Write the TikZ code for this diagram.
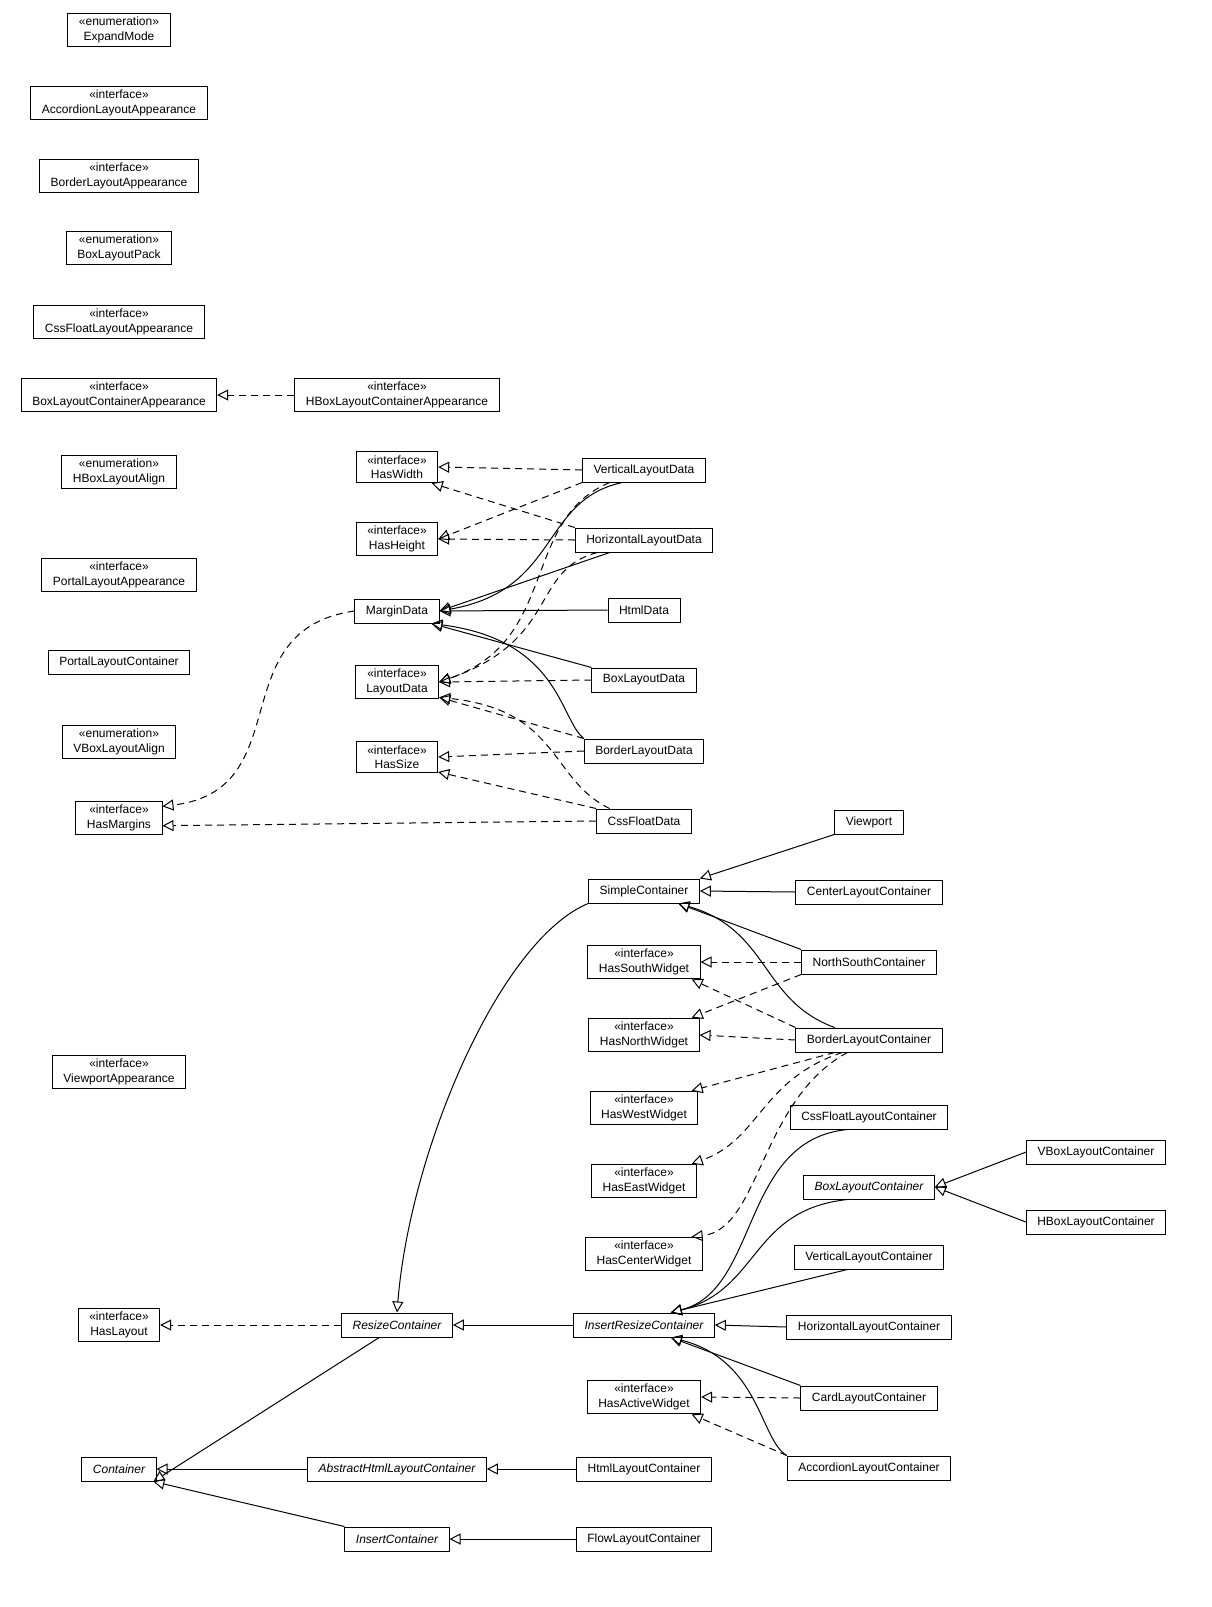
\documentclass[tikz,border=0pt]{standalone}
\usepackage{fontspec}
\setmainfont{Liberation Sans}
\usetikzlibrary{arrows.meta}
\begin{document}
\begin{tikzpicture}[x=1pt,y=-1pt,
  every node/.style={font=\fontsize{12}{14.5}\selectfont},
  box/.style={draw,line width=1pt,inner xsep=11pt,inner ysep=4pt,minimum height=24pt,align=center,fill=white},
  it/.style={box,font=\fontsize{12}{14.5}\selectfont\itshape},
  gen/.style={line width=1pt,-{Triangle[open,length=11pt,width=11pt]}},
  real/.style={gen,dash pattern=on 7pt off 5pt}]
\def\st#1#2{\guillemotleft#1\guillemotright\\#2}
% left column
\node[box] (em) at (119,30) {\st{enumeration}{ExpandMode}};
\node[box] (ala) at (119,103) {\st{interface}{AccordionLayoutAppearance}};
\node[box] (bla) at (119,176) {\st{interface}{BorderLayoutAppearance}};
\node[box] (blp) at (119,248) {\st{enumeration}{BoxLayoutPack}};
\node[box] (cfla) at (119,322) {\st{interface}{CssFloatLayoutAppearance}};
\node[box] (blca) at (119,395) {\st{interface}{BoxLayoutContainerAppearance}};
\node[box] (hblca) at (397,395) {\st{interface}{HBoxLayoutContainerAppearance}};
\node[box] (hbla) at (119,472) {\st{enumeration}{HBoxLayoutAlign}};
\node[box] (pla) at (119,575) {\st{interface}{PortalLayoutAppearance}};
\node[box] (plc) at (119,662) {PortalLayoutContainer};
\node[box] (vbla) at (119,742) {\st{enumeration}{VBoxLayoutAlign}};
\node[box] (hm) at (119,818) {\st{interface}{HasMargins}};
\node[box] (va) at (119,1072) {\st{interface}{ViewportAppearance}};
\node[box] (hl) at (119,1325) {\st{interface}{HasLayout}};
\node[it] (cont) at (119,1469) {Container};
% middle column
\node[box] (hw) at (397,467) {\st{interface}{HasWidth}};
\node[box] (hh) at (397,539) {\st{interface}{HasHeight}};
\node[box] (md) at (397,611) {MarginData};
\node[box] (ld) at (397,682) {\st{interface}{LayoutData}};
\node[box] (hs) at (397,757) {\st{interface}{HasSize}};
\node[it] (rc) at (397,1325) {ResizeContainer};
\node[it] (ahlc) at (397,1469) {AbstractHtmlLayoutContainer};
\node[it] (ic) at (397,1539) {InsertContainer};
% third column
\node[box] (vld) at (644,470) {VerticalLayoutData};
\node[box] (hld) at (644,540) {HorizontalLayoutData};
\node[box] (htd) at (644,610) {HtmlData};
\node[box] (bxd) at (644,680) {BoxLayoutData};
\node[box] (bld) at (644,751) {BorderLayoutData};
\node[box] (cfd) at (644,821) {CssFloatData};
\node[box] (sc) at (644,891) {SimpleContainer};
\node[box] (hsw) at (644,962) {\st{interface}{HasSouthWidget}};
\node[box] (hnw) at (644,1035) {\st{interface}{HasNorthWidget}};
\node[box] (hww) at (644,1108) {\st{interface}{HasWestWidget}};
\node[box] (hew) at (644,1181) {\st{interface}{HasEastWidget}};
\node[box] (hcw) at (644,1254) {\st{interface}{HasCenterWidget}};
\node[it] (irc) at (644,1325) {InsertResizeContainer};
\node[box] (haw) at (644,1397) {\st{interface}{HasActiveWidget}};
\node[box] (hlc) at (644,1469) {HtmlLayoutContainer};
\node[box] (flc) at (644,1539) {FlowLayoutContainer};
% fourth column
\node[box] (vp) at (869,822) {Viewport};
\node[box] (clc) at (869,892) {CenterLayoutContainer};
\node[box] (nsc) at (869,962) {NorthSouthContainer};
\node[box] (blc) at (869,1040) {BorderLayoutContainer};
\node[box] (cflc) at (869,1117) {CssFloatLayoutContainer};
\node[it] (bxlc) at (869,1187) {BoxLayoutContainer};
\node[box] (vlc) at (869,1257) {VerticalLayoutContainer};
\node[box] (hzlc) at (869,1327) {HorizontalLayoutContainer};
\node[box] (cdlc) at (869,1398) {CardLayoutContainer};
\node[box] (aclc) at (869,1468) {AccordionLayoutContainer};
\node[box] (vblc) at (1096,1152) {VBoxLayoutContainer};
\node[box] (hblc) at (1096,1222) {HBoxLayoutContainer};
% edges
\draw[real] (hblca) -- (blca);
\draw[real] (vld.west) -- (hw.east);
\draw[real] (vld.south west) -- (hh.east);
\draw[gen] (vld.-150) .. controls (540,500) and (560,590) .. (md.east);
\draw[real] (vld.-160) .. controls (520,520) and (560,640) .. (ld.east);
\draw[real] (hld.north west) -- (hw.-25);
\draw[real] (hld.west) -- (hh.east);
\draw[gen] (hld.-160) -- (md.east);
\draw[real] (hld.-165) .. controls (530,570) and (560,640) .. (ld.east);
\draw[gen] (htd.west) -- (md.east);
\draw[gen] (bxd.north west) -- (md.-20);
\draw[real] (bxd.west) -- (ld.east);
\draw[gen] (bld.north west) .. controls (560,720) and (560,640) .. (md.-20);
\draw[real] (bld.west) -- (hs.east);
\draw[real] (bld.north west) -- (ld.-20);
\draw[real] (cfd.north west) -- (hs.-20);
\draw[real] (cfd.160) .. controls (550,780) and (560,710) .. (ld.-20);
\draw[real] (cfd.west) -- (hm.-10);
\draw[real] (md.west) .. controls (220,630) and (300,790) .. (hm.15);
\draw[gen] (vp.south west) -- (sc.north east);
\draw[gen] (clc.west) -- (sc.east);
\draw[gen] (nsc.north west) -- (sc.-20);
\draw[gen] (blc.160) .. controls (760,1000) and (770,930) .. (sc.-20);
\draw[real] (nsc.west) -- (hsw.east);
\draw[real] (nsc.south west) -- (hnw.20);
\draw[real] (blc.north west) -- (hsw.-20);
\draw[real] (blc.west) -- (hnw.east);
\draw[real] (blc.-160) -- (hww.20);
\draw[real] (blc.-155) .. controls (760,1080) and (760,1140) .. (hew.20);
\draw[real] (blc.-150) .. controls (760,1100) and (760,1230) .. (hcw.20);
\draw[gen] (sc.south west) .. controls (500,940) and (410,1150) .. (rc.north);
\draw[real] (rc.west) -- (hl.east);
\draw[gen] (irc.west) -- (rc.east);
\draw[gen] (rc.-145) -- (cont.-20);
\draw[gen] (ahlc.west) -- (cont.east);
\draw[gen] (hlc.west) -- (ahlc.east);
\draw[gen] (ic.north west) -- (cont.-20);
\draw[gen] (flc.west) -- (ic.east);
\draw[gen] (cflc.-150) .. controls (740,1140) and (760,1290) .. (irc.25);
\draw[gen] (bxlc.-150) .. controls (750,1210) and (760,1290) .. (irc.25);
\draw[gen] (vlc.-150) -- (irc.25);
\draw[gen] (hzlc.west) -- (irc.east);
\draw[gen] (cdlc.north west) -- (irc.-25);
\draw[gen] (aclc.north west) .. controls (760,1440) and (760,1360) .. (irc.-25);
\draw[real] (cdlc.west) -- (haw.east);
\draw[real] (aclc.north west) -- (haw.-20);
\draw[gen] (vblc.west) -- (bxlc.east);
\draw[gen] (hblc.west) -- (bxlc.east);
\pgfresetboundingbox
\path[use as bounding box] (0,0) rectangle (1212,1607);
\end{tikzpicture}
\end{document}
